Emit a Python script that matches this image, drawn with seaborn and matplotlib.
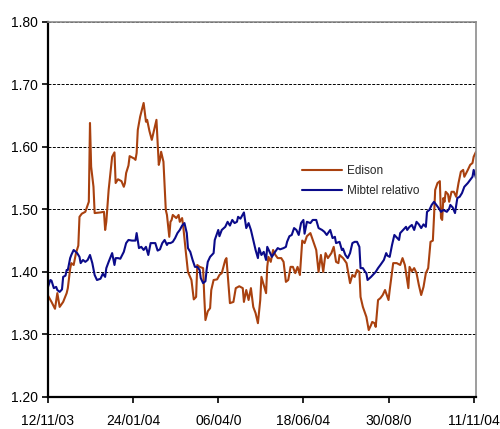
import numpy as np
import pandas as pd
import seaborn as sns
from matplotlib import pyplot as plt

# days since 12/11/03 and values
start = pd.Timestamp("2003-11-12")

edison_days = [0, 3, 6, 8, 10, 13, 16, 17, 19, 20, 22, 24, 26, 27, 29, 32, 34, 35, 36, 37,
               39, 40, 45, 48, 49, 50, 52, 55, 57, 58, 60, 63, 65, 66, 67, 69, 70, 72, 74, 75,
               76, 77, 79, 82, 84, 85, 87, 89, 91, 93, 95, 96, 97, 99, 101, 102, 104, 105, 106, 107,
               110, 112, 113, 115, 116, 118, 120, 123, 125, 127, 128, 130, 133, 134, 135, 137, 139, 140, 142, 145,
               147, 149, 152, 153, 156, 159, 161, 164, 167, 168, 170, 172, 174, 176, 178, 180, 182, 183, 185, 187,
               188, 189, 191, 193, 195, 197, 200, 202, 204, 206, 208, 210, 212, 214, 216, 218, 220, 222, 225, 227,
               230, 232, 234, 236, 238, 240, 243, 245, 247, 249, 250, 253, 256, 259, 261, 263, 265, 267, 268, 270,
               273, 275, 277, 278, 280, 281, 283, 285, 287, 289, 291, 292, 293, 296, 299, 302, 304, 306, 309, 310,
               312, 314, 316, 318, 320, 322, 324, 326, 328, 330, 331, 332, 334, 336, 337, 338, 339, 340, 341, 343,
               344, 346, 348, 350, 352, 354, 356, 357, 360, 362, 364, 365, 367]
edison = [1.362, 1.352, 1.341, 1.366, 1.344, 1.352, 1.366, 1.374, 1.405, 1.414, 1.411, 1.430, 1.442, 1.488, 1.493, 1.496, 1.507, 1.512, 1.638, 1.568,
          1.536, 1.494, 1.495, 1.496, 1.467, 1.480, 1.531, 1.584, 1.591, 1.542, 1.548, 1.545, 1.536, 1.542, 1.558, 1.570, 1.585, 1.583, 1.581, 1.579,
          1.590, 1.627, 1.648, 1.670, 1.640, 1.643, 1.625, 1.611, 1.627, 1.643, 1.571, 1.579, 1.592, 1.576, 1.499, 1.491, 1.456, 1.480, 1.483, 1.491,
          1.486, 1.491, 1.480, 1.486, 1.472, 1.435, 1.400, 1.387, 1.356, 1.360, 1.411, 1.408, 1.406, 1.360, 1.323, 1.337, 1.342, 1.371, 1.387, 1.388,
          1.395, 1.398, 1.419, 1.422, 1.350, 1.352, 1.374, 1.377, 1.374, 1.352, 1.371, 1.355, 1.374, 1.344, 1.334, 1.318, 1.355, 1.392, 1.379, 1.366,
          1.408, 1.424, 1.416, 1.435, 1.427, 1.422, 1.422, 1.416, 1.384, 1.387, 1.408, 1.408, 1.398, 1.408, 1.395, 1.450, 1.446, 1.457, 1.462, 1.451,
          1.435, 1.400, 1.427, 1.400, 1.430, 1.422, 1.430, 1.440, 1.416, 1.414, 1.427, 1.422, 1.414, 1.382, 1.395, 1.392, 1.403, 1.400, 1.360, 1.344,
          1.328, 1.307, 1.315, 1.320, 1.318, 1.312, 1.355, 1.358, 1.363, 1.371, 1.360, 1.355, 1.371, 1.414, 1.414, 1.411, 1.422, 1.411, 1.374, 1.408,
          1.401, 1.406, 1.398, 1.379, 1.363, 1.376, 1.398, 1.406, 1.448, 1.450, 1.488, 1.531, 1.542, 1.545, 1.486, 1.483, 1.518, 1.512, 1.528, 1.524,
          1.512, 1.528, 1.528, 1.520, 1.542, 1.560, 1.563, 1.552, 1.563, 1.571, 1.574, 1.584, 1.592]

mibtel_days = [0, 2, 3, 5, 7, 8, 10, 12, 13, 15, 16, 17, 19, 20, 22, 25, 27, 28, 30, 32,
               34, 36, 38, 40, 42, 45, 47, 49, 50, 52, 55, 57, 58, 60, 62, 65, 67, 69, 72, 75,
               76, 78, 80, 82, 84, 86, 88, 90, 92, 94, 96, 98, 100, 102, 103, 105, 107, 109, 111, 113,
               115, 117, 119, 120, 122, 124, 126, 128, 130, 131, 133, 135, 136, 137, 139, 142, 143, 145, 146, 147,
               149, 152, 154, 156, 158, 160, 162, 163, 165, 168, 170, 172, 174, 176, 178, 180, 181, 183, 185, 187,
               188, 190, 192, 194, 197, 199, 202, 204, 205, 207, 209, 211, 213, 215, 217, 219, 220, 222, 225, 227,
               230, 232, 235, 237, 239, 242, 244, 246, 247, 250, 252, 253, 255, 257, 259, 261, 263, 265, 267, 268,
               270, 272, 273, 274, 277, 279, 281, 283, 285, 288, 290, 291, 293, 295, 297, 299, 301, 302, 304, 307,
               308, 310, 312, 314, 316, 318, 320, 322, 324, 325, 327, 329, 331, 333, 335, 337, 339, 342, 344, 345,
               347, 349, 351, 353, 355, 357, 360, 362, 364, 365, 367]
mibtel = [1.376, 1.387, 1.386, 1.374, 1.376, 1.371, 1.368, 1.372, 1.392, 1.394, 1.403, 1.403, 1.422, 1.427, 1.435, 1.430, 1.424, 1.414, 1.419, 1.416,
          1.419, 1.427, 1.414, 1.395, 1.387, 1.389, 1.397, 1.392, 1.406, 1.416, 1.430, 1.411, 1.422, 1.422, 1.421, 1.432, 1.446, 1.451, 1.450, 1.450,
          1.462, 1.438, 1.440, 1.435, 1.440, 1.427, 1.446, 1.446, 1.446, 1.434, 1.436, 1.446, 1.451, 1.443, 1.446, 1.446, 1.448, 1.454, 1.462, 1.467,
          1.474, 1.478, 1.462, 1.438, 1.432, 1.419, 1.408, 1.408, 1.403, 1.390, 1.382, 1.385, 1.403, 1.416, 1.424, 1.430, 1.451, 1.462, 1.467, 1.457,
          1.467, 1.472, 1.480, 1.474, 1.483, 1.478, 1.480, 1.488, 1.485, 1.495, 1.470, 1.478, 1.467, 1.451, 1.435, 1.422, 1.438, 1.427, 1.432, 1.419,
          1.440, 1.432, 1.424, 1.430, 1.438, 1.436, 1.438, 1.440, 1.448, 1.457, 1.459, 1.470, 1.467, 1.459, 1.478, 1.483, 1.461, 1.480, 1.478, 1.483,
          1.483, 1.470, 1.467, 1.464, 1.459, 1.467, 1.454, 1.456, 1.446, 1.448, 1.435, 1.437, 1.427, 1.422, 1.430, 1.446, 1.448, 1.448, 1.440, 1.406,
          1.406, 1.400, 1.398, 1.387, 1.392, 1.396, 1.400, 1.406, 1.411, 1.419, 1.430, 1.426, 1.424, 1.443, 1.459, 1.455, 1.451, 1.462, 1.466, 1.472,
          1.467, 1.472, 1.475, 1.467, 1.480, 1.476, 1.470, 1.476, 1.472, 1.496, 1.499, 1.507, 1.512, 1.507, 1.502, 1.496, 1.499, 1.496, 1.501, 1.507,
          1.503, 1.494, 1.518, 1.520, 1.526, 1.536, 1.542, 1.547, 1.552, 1.563, 1.550]

tick_days = [0, 73, 146, 219, 292, 365]
tick_labels = ["12/11/03", "24/01/04", "06/04/0", "18/06/04", "30/08/0", "11/11/04"]
y_ticks = [1.20, 1.30, 1.40, 1.50, 1.60, 1.70, 1.80]

df = pd.concat([
    pd.DataFrame({"Date": start + pd.to_timedelta(edison_days, unit="D"), "Value": edison, "Serie": "Edison"}),
    pd.DataFrame({"Date": start + pd.to_timedelta(mibtel_days, unit="D"), "Value": mibtel, "Serie": "Mibtel relativo"}),
])

sns.set_theme(style="white")
plt.rcParams['font.family'] = ['Liberation Sans', 'DejaVu Sans']

fig = plt.figure(figsize=(5, 4.29), dpi=100)
ax = fig.add_axes([0.096, 0.0746, 0.856, 0.875])

sns.lineplot(data=df, x="Date", y="Value", hue="Serie", estimator=None, sort=False,
             palette={"Edison": "#A9410F", "Mibtel relativo": "#0B0B8A"}, linewidth=1.5, ax=ax)

ax.set_xlim(start, start + pd.Timedelta(days=367))
ax.set_ylim(1.20, 1.80)
ax.set_yticks(y_ticks)
ax.set_yticklabels([f"{v:.2f}" for v in y_ticks])
ax.set_xticks(start + pd.to_timedelta(tick_days, unit="D"))
ax.set_xticklabels(tick_labels)
ax.set_xlabel("")
ax.set_ylabel("")

ax.yaxis.grid(True, color="black", linestyle=(0, (3, 1.5)), linewidth=0.7)
ax.xaxis.grid(False)
ax.set_axisbelow(True)

for side in ["left", "bottom"]:
    ax.spines[side].set_color("black")
    ax.spines[side].set_linewidth(1.6)
for side in ["top", "right"]:
    ax.spines[side].set_color("#8C8C8C")
    ax.spines[side].set_linewidth(1.2)

ax.tick_params(axis="both", which="major", direction="out", length=4.5, width=1.2,
               color="black", labelsize=10, labelcolor="black", bottom=True, left=True)
ax.tick_params(axis="y", pad=3)
ax.tick_params(axis="x", pad=8)

handles, labels = ax.get_legend_handles_labels()
ax.legend(handles, labels, loc="upper left", bbox_to_anchor=(0.593, 0.618), frameon=False,
          fontsize=8.5, handlelength=3.4, handletextpad=0.4, labelspacing=0.7,
          borderpad=0, borderaxespad=0)

fig.savefig("out.png", dpi=100)
